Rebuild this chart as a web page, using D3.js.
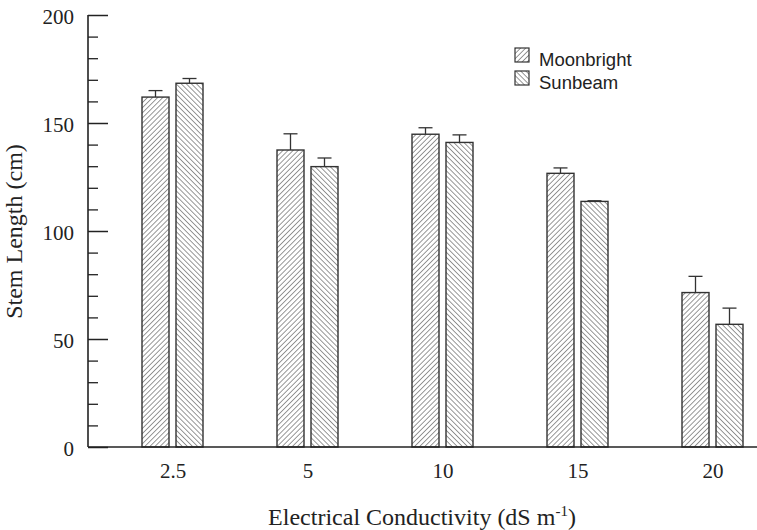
<!DOCTYPE html>
<html>
<head>
<meta charset="utf-8">
<script src="https://cdn.jsdelivr.net/npm/d3@7"></script>
<style>
body { margin: 0; background: #fff; }
.tick text { font-family: "Liberation Serif", "Times New Roman", serif; font-size: 21px; fill: #222; }
</style>
</head>
<body>
<script>
var categories = ["2.5", "5", "10", "15", "20"];
var series = ["Moonbright", "Sunbeam"];
var moonbright = [162, 137.5, 144.8, 126.7, 71.5];
var moonbrightErr = [3, 7.5, 3, 2.5, 7.5];
var sunbeam = [168.4, 129.8, 141, 113.7, 56.8];
var sunbeamErr = [2.2, 4, 3.5, 0.3, 7.5];
var yTicks = [0, 50, 100, 150, 200];

var w = 757, h = 530;
var margin = {top: 15, left: 88, bottom: 447};

var svg = d3.select("body").append("svg")
	.attr("width", w)
	.attr("height", h);

var defs = svg.append("defs");
function hatch(id, angle) {
	var s = 3.6;
	var p = defs.append("pattern")
		.attr("id", id)
		.attr("patternUnits", "userSpaceOnUse")
		.attr("width", s).attr("height", s)
		.attr("patternTransform", "rotate(" + angle + ")");
	p.append("rect").attr("width", s).attr("height", s).attr("fill", "#fff");
	p.append("line").attr("x1", 0).attr("y1", 0).attr("x2", 0).attr("y2", s)
		.attr("stroke", "#444").attr("stroke-width", 1.1);
}
hatch("hatchM", 45);
hatch("hatchS", -45);

/*Scales*/
var xScale = d3.scalePoint()
	.domain(categories)
	.range([172.5, 712.5]);
var yScale = d3.scaleLinear()
	.domain([0, 200])
	.range([margin.bottom, margin.top]);

var barW = 27, gap = 7;
var data = categories.map(function(c, i) {
	return [
		{cat: c, s: 0, v: moonbright[i], e: moonbrightErr[i]},
		{cat: c, s: 1, v: sunbeam[i], e: sunbeamErr[i]}
	];
}).flat();

function barX(d) {
	return xScale(d.cat) + (d.s === 0 ? -(barW + gap / 2) : gap / 2);
}

/*Error bars*/
var eb = svg.append("g").attr("stroke", "#333").attr("stroke-width", 1.3);
eb.selectAll("line.v").data(data).enter().append("line")
	.attr("x1", function(d) { return barX(d) + barW / 2; })
	.attr("x2", function(d) { return barX(d) + barW / 2; })
	.attr("y1", function(d) { return yScale(d.v); })
	.attr("y2", function(d) { return yScale(d.v + d.e); });
eb.selectAll("line.c").data(data).enter().append("line")
	.attr("x1", function(d) { return barX(d) + barW / 2 - 7; })
	.attr("x2", function(d) { return barX(d) + barW / 2 + 7; })
	.attr("y1", function(d) { return yScale(d.v + d.e); })
	.attr("y2", function(d) { return yScale(d.v + d.e); });

/*Bars*/
svg.selectAll("rect.bar").data(data).enter().append("rect")
	.attr("class", "bar")
	.attr("x", barX)
	.attr("y", function(d) { return yScale(d.v); })
	.attr("width", barW)
	.attr("height", function(d) { return yScale(0) - yScale(d.v); })
	.attr("fill", function(d) { return d.s === 0 ? "url(#hatchM)" : "url(#hatchS)"; })
	.attr("stroke", "#333")
	.attr("stroke-width", 1.4);

/*Axes*/
var yAxis = d3.axisRight(yScale)
	.tickValues(yTicks)
	.tickSize(20)
	.tickFormat("");
var yMinor = d3.axisRight(yScale)
	.tickValues(d3.range(0, 201, 10).filter(function(v) { return v % 50 !== 0; }))
	.tickSize(10)
	.tickFormat("");
svg.append("g").attr("transform", "translate(" + margin.left + ",0)").call(yAxis)
	.call(function(g) { g.selectAll("line, path").attr("stroke", "#222").attr("stroke-width", 1.5); g.select(".domain").remove(); });
svg.append("g").attr("transform", "translate(" + margin.left + ",0)").call(yMinor)
	.call(function(g) { g.selectAll("line").attr("stroke", "#222").attr("stroke-width", 1.3); g.select(".domain").remove(); });
svg.append("line")
	.attr("x1", margin.left).attr("x2", margin.left)
	.attr("y1", yScale(200)).attr("y2", yScale(0))
	.attr("stroke", "#222").attr("stroke-width", 1.6);
svg.append("line")
	.attr("x1", margin.left).attr("x2", w)
	.attr("y1", yScale(0)).attr("y2", yScale(0))
	.attr("stroke", "#222").attr("stroke-width", 1.6);

var yLab = d3.axisLeft(yScale).tickValues(yTicks).tickSize(0).tickPadding(14);
svg.append("g").attr("transform", "translate(" + margin.left + ",2)").call(yLab)
	.call(function(g) { g.select(".domain").remove(); });

var xAxis = d3.axisBottom(xScale).tickSize(0).tickPadding(16);
svg.append("g").attr("transform", "translate(0," + margin.bottom + ")").call(xAxis)
	.call(function(g) { g.select(".domain").remove(); });

/*Titles*/
svg.append("text")
	.attr("transform", "translate(22," + 231.5 + ") rotate(-90)")
	.attr("text-anchor", "middle")
	.style("font-family", "'Liberation Serif', serif")
	.style("font-size", "24px")
	.attr("fill", "#222")
	.text("Stem Length (cm)");
var xt = svg.append("text")
	.attr("x", 422).attr("y", 525)
	.attr("text-anchor", "middle")
	.style("font-family", "'Liberation Serif', serif")
	.style("font-size", "24px")
	.attr("fill", "#222");
xt.append("tspan").text("Electrical Conductivity (dS m");
xt.append("tspan").attr("dy", -9).style("font-size", "15px").text("-1");
xt.append("tspan").attr("dy", 9).text(")");

/*Legend*/
var leg = svg.append("g").attr("transform", "translate(515,48)");
series.forEach(function(s, i) {
	var g = leg.append("g").attr("transform", "translate(0," + (i * 23) + ")");
	g.append("rect").attr("width", 14).attr("height", 14)
		.attr("fill", i === 0 ? "url(#hatchM)" : "url(#hatchS)")
		.attr("stroke", "#333").attr("stroke-width", 1.2);
	g.append("text").attr("x", 24).attr("y", 18)
		.style("font-family", "'Liberation Sans', Arial, sans-serif")
		.style("font-size", "18.5px")
		.attr("fill", "#222")
		.text(s);
});
</script>
</body>
</html>
